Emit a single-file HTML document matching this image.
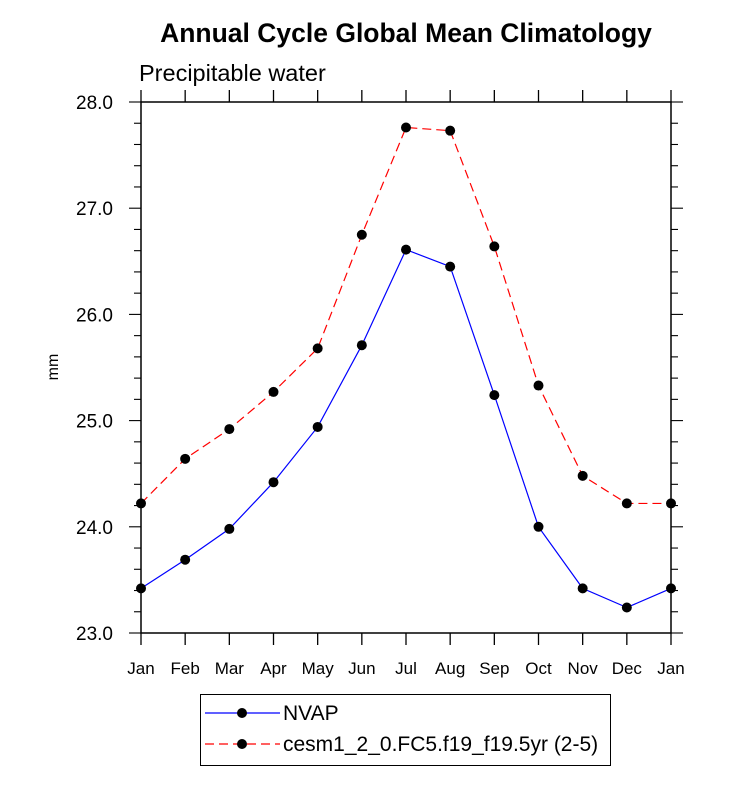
<!DOCTYPE html>
<html><head><meta charset="utf-8"><style>
body{margin:0;background:#fff;}
svg text{font-family:"Liberation Sans",Arial,sans-serif;}
</style></head><body>
<svg width="733" height="786" id="c">
<text x="406" y="42" text-anchor="middle" font-size="26.5" font-weight="bold">Annual Cycle Global Mean Climatology</text>
<text x="139" y="81" font-size="23.5">Precipitable water</text>
<text transform="translate(58,367) rotate(-90)" text-anchor="middle" font-size="16">mm</text>
<g id="axes"></g>
<g id="series"></g>
<g>
<rect x="200.5" y="694.5" width="410" height="71" fill="none" stroke="#000" stroke-width="1"/>
<line x1="205" y1="713" x2="280" y2="713" stroke="#0000ff" stroke-width="1.2"/>
<circle cx="242" cy="713" r="5" fill="#000"/>
<text x="283" y="720" font-size="21">NVAP</text>
<line x1="205" y1="744" x2="280" y2="744" stroke="#ff0000" stroke-width="1.2" stroke-dasharray="9,5"/>
<circle cx="242" cy="744" r="5" fill="#000"/>
<text x="283" y="751" font-size="21">cesm1_2_0.FC5.f19_f19.5yr (2-5)</text>
</g>
</svg>
<script>
const months=["Jan","Feb","Mar","Apr","May","Jun","Jul","Aug","Sep","Oct","Nov","Dec","Jan"];
const nvap=[23.42,23.69,23.98,24.42,24.94,25.71,26.61,26.45,25.24,24.0,23.42,23.24,23.42];
const cesm=[24.22,24.64,24.92,25.27,25.68,26.75,27.76,27.73,26.64,25.33,24.48,24.22,24.22];
const yTicks=["23.0","24.0","25.0","26.0","27.0","28.0"];
const X0=141,X1=671,Y0=633,Y1=102,YMIN=23,YMAX=28;
const ns="http://www.w3.org/2000/svg";
const xs=i=>X0+(X1-X0)*i/(months.length-1);
const ys=v=>Y0-(Y0-Y1)*(v-YMIN)/(YMAX-YMIN);
const ax=document.getElementById('axes'),se=document.getElementById('series');
function mk(p,t,a){const e=document.createElementNS(ns,t);for(const k in a)e.setAttribute(k,a[k]);p.appendChild(e);return e;}
const frame=mk(ax,'rect',{x:X0,y:Y1,width:X1-X0,height:Y0-Y1,fill:'none',stroke:'#000','stroke-width':1.5});


months.forEach((m,i)=>{const x=xs(i);
mk(ax,'line',{x1:x,y1:Y0,x2:x,y2:Y0+12,stroke:'#000','stroke-width':1.3});
mk(ax,'line',{x1:x,y1:Y1,x2:x,y2:Y1-12,stroke:'#000','stroke-width':1.3});
const t=mk(ax,'text',{x:x,y:674,'text-anchor':'middle','font-size':17});t.textContent=m;

});
for(let k=0;k<=25;k++){const v=YMIN+k*0.2,y=ys(v),maj=k%5===0,l=maj?12:7;
mk(ax,'line',{x1:X0,y1:y,x2:X0-l,y2:y,stroke:'#000','stroke-width':1.1});
mk(ax,'line',{x1:X1,y1:y,x2:X1+l,y2:y,stroke:'#000','stroke-width':1.1});}
yTicks.forEach(s=>{const t=mk(ax,'text',{x:113,y:ys(parseFloat(s))+7,'text-anchor':'end','font-size':19});t.textContent=s;

});
function draw(arr,col,dash,name){
const pl=mk(se,'polyline',{points:arr.map((v,i)=>xs(i)+','+ys(v)).join(' '),fill:'none',stroke:col,'stroke-width':1.2,'stroke-dasharray':dash});


arr.forEach((v,i)=>{const c=mk(se,'circle',{cx:xs(i),cy:ys(v),r:5,fill:'#000'});

});}
draw(cesm,'#ff0000','9,5','cesm');
draw(nvap,'#0000ff','none','nvap');
</script>
</body></html>
